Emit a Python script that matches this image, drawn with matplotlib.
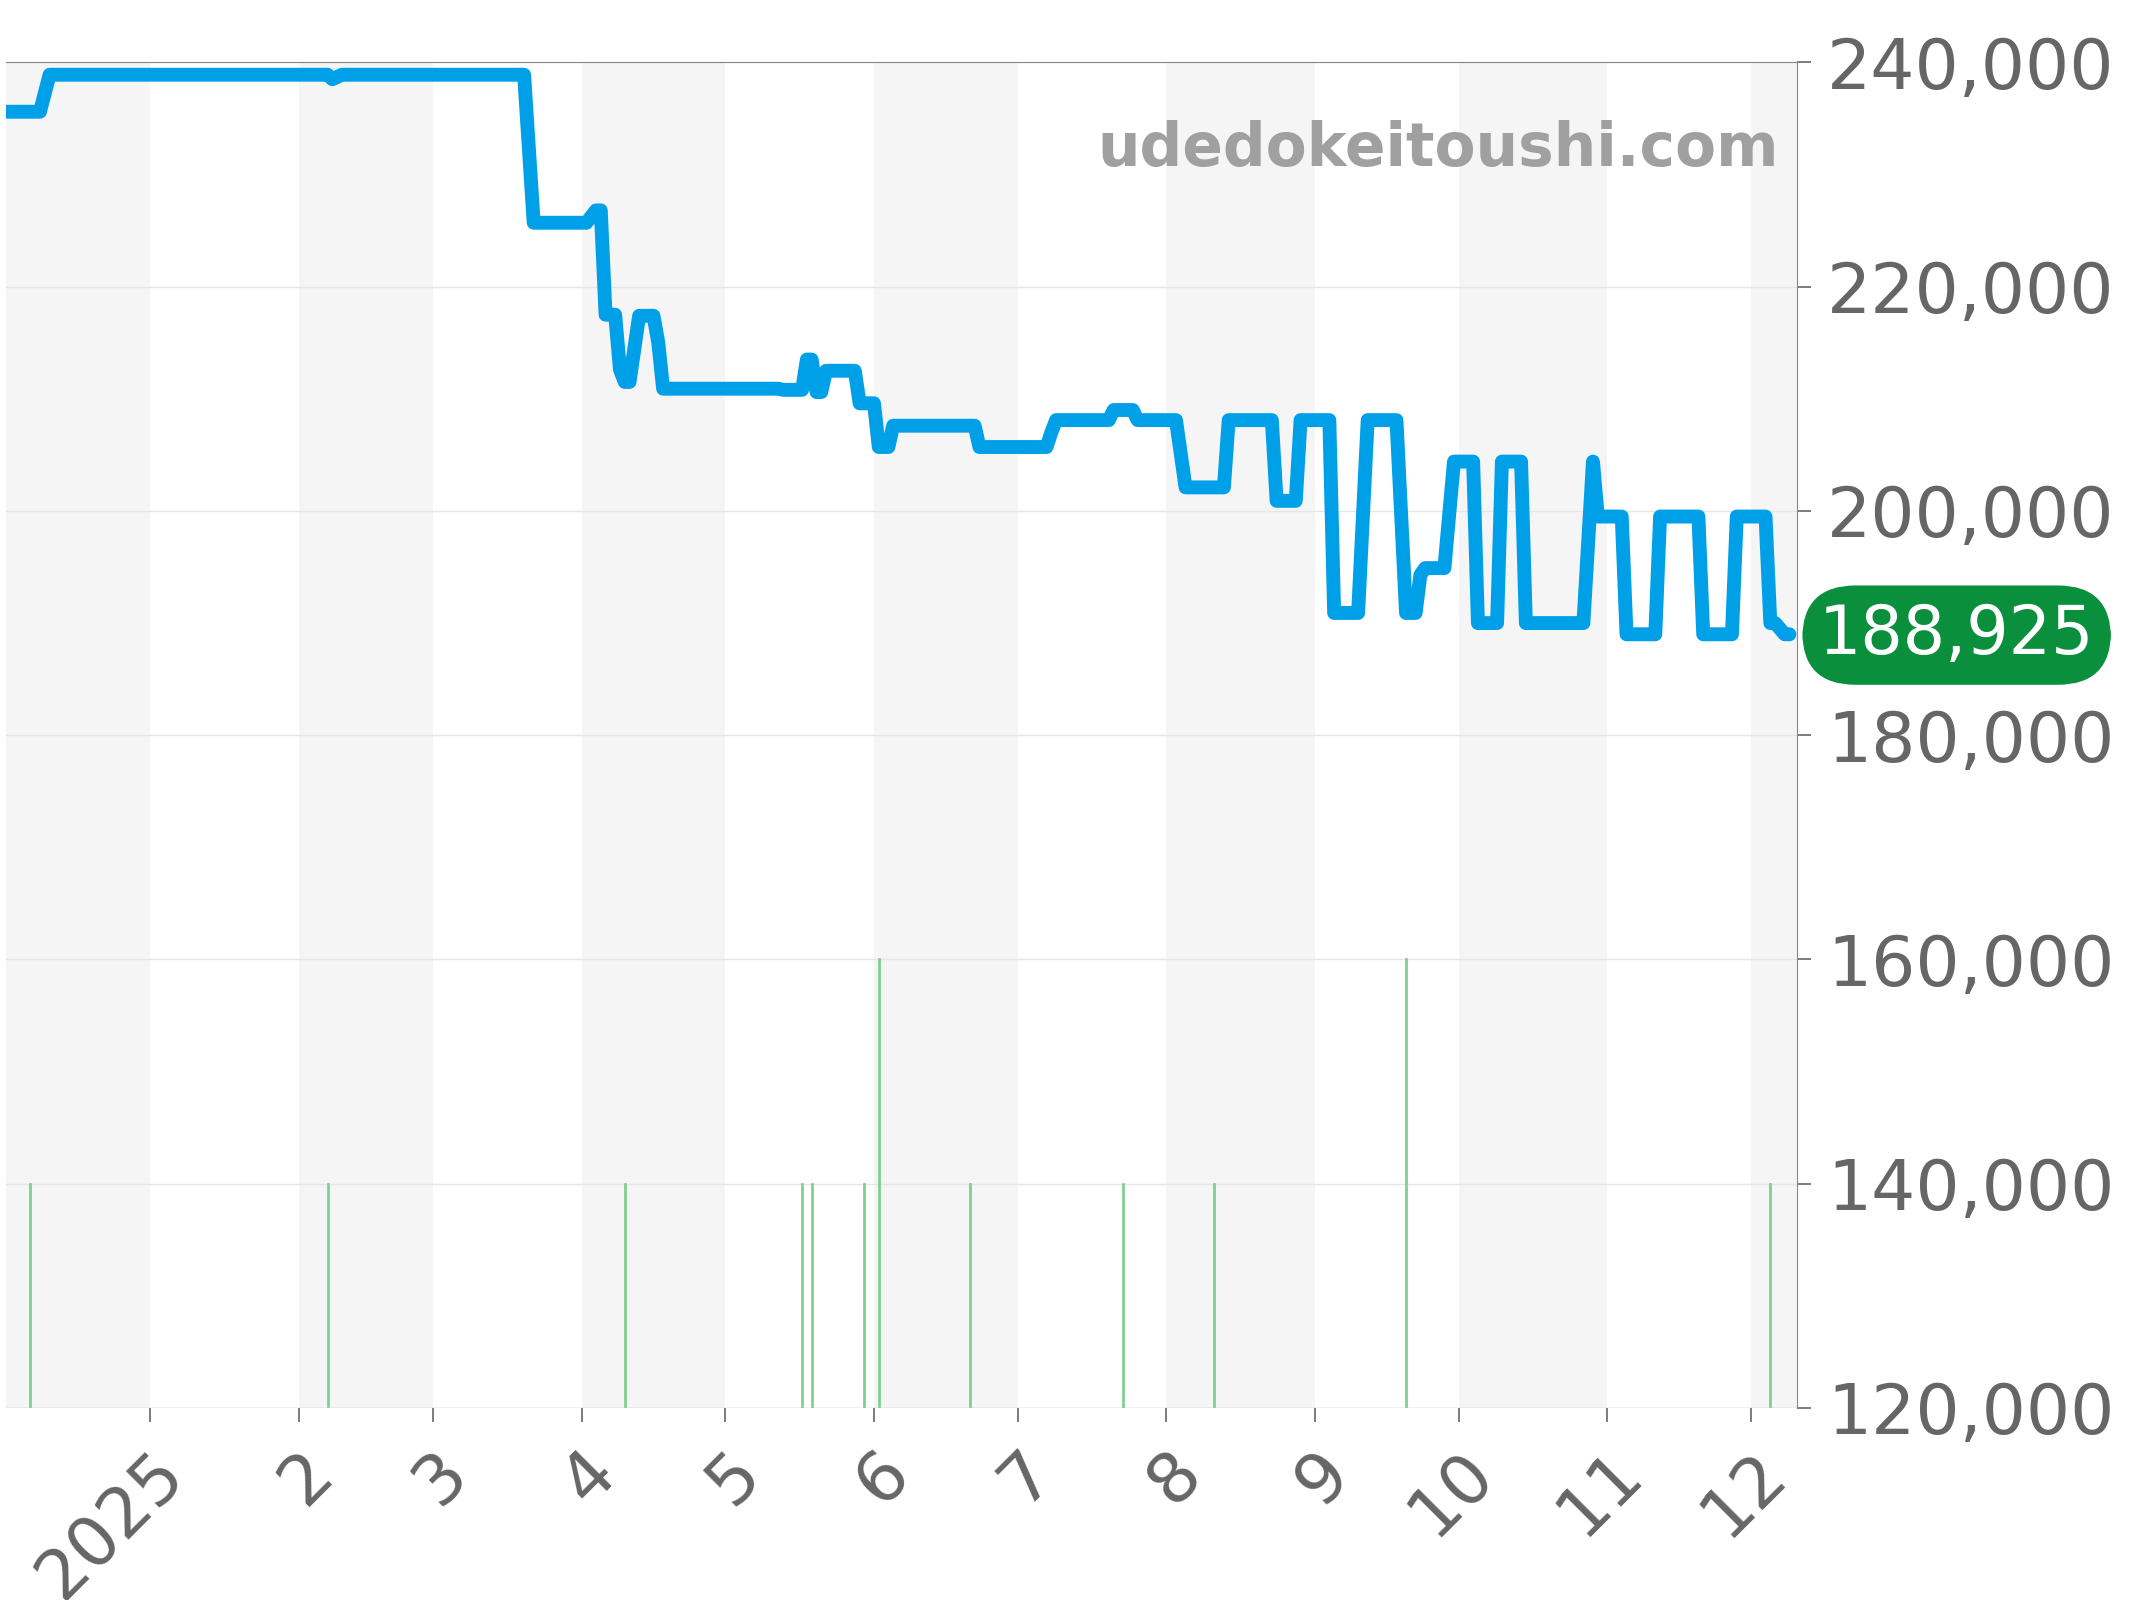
import numpy as np
import matplotlib.pyplot as plt
from matplotlib.ticker import FuncFormatter

# days from 2025-01-01
days = [-30, -23, -21, 37, 38, 40, 78, 80, 91, 93, 94, 95, 97, 98, 99, 100, 102, 105, 106, 107,
        131, 132, 136, 137, 138, 139, 140, 141, 147, 148, 151, 152, 154, 155, 172, 173, 187, 188, 189,
        200, 201, 205, 206, 214, 216, 224, 225, 234, 235, 239, 240, 246, 247, 252, 254, 260, 262,
        264, 265, 266, 270, 272, 276, 277, 281, 282, 286, 287, 299, 301, 302, 307, 308, 314, 315,
        323, 324, 330, 331, 337, 338, 339, 341, 342]
prices = [235600, 235600, 238900, 238900, 238500, 238900, 238900, 225700, 225700, 226800, 226800,
          217500, 217500, 212600, 211500, 211500, 217400, 217400, 215000, 210900,
          210900, 210800, 210800, 213500, 213500, 210600, 210600, 212500, 212500, 209600, 209600,
          205700, 205700, 207600, 207600, 205700, 205700, 207000, 208100,
          208100, 209000, 209000, 208100, 208100, 202100, 202100, 208100, 208100, 200900, 200900,
          208100, 208100, 190900, 190900, 208100, 208100, 190900, 190900, 194300, 194900, 194900,
          204400, 204400, 190000, 190000, 204400, 204400, 190000, 190000, 204400, 199500, 199500,
          189000, 189000, 199500, 199500, 189000, 189000, 199500, 199500, 190000, 190000, 189000, 189000]
vol_days = [-25, 37, 99, 136, 138, 149, 152, 171, 203, 222, 262, 338]
vol_tops = [140000, 140000, 140000, 140000, 140000, 140000, 160000, 140000, 140000, 140000, 160000, 140000]
month_days = [0, 31, 59, 90, 120, 151, 181, 212, 243, 273, 304, 334]
month_labels = ['2025', '2', '3', '4', '5', '6', '7', '8', '9', '10', '11', '12']
last_price = 188925

fig = plt.figure(figsize=(21.44, 16), dpi=100)
ax = fig.add_axes([0.003, 0.12, 0.835, 0.841])
xmin, xmax = -30, 343.5
ymin, ymax = 120000, 240000

# alternating month bands
edges = [xmin] + month_days + [xmax]
for i in range(len(edges) - 1):
    if i % 2 == 0:
        ax.axvspan(edges[i], edges[i + 1], color='#f5f5f5', zorder=0, lw=0)

ax.grid(axis='y', color='#e6e6e6', lw=1)
ax.set_axisbelow(True)

for d, t in zip(vol_days, vol_tops):
    ax.plot([d, d], [ymin, t], color='#7fd18f', lw=2, zorder=2)

ax.plot(days, prices, color='#00a0e9', lw=10, solid_joinstyle='round', solid_capstyle='round', zorder=3)

ax.set_xlim(xmin, xmax)
ax.set_ylim(ymin, ymax)
ax.yaxis.tick_right()
ax.set_yticks(np.arange(120000, 240001, 20000))
ax.yaxis.set_major_formatter(FuncFormatter(lambda v, p: f'{int(v):,}'))
ax.set_xticks(month_days)
ax.set_xticklabels(month_labels, rotation=45, ha='right', rotation_mode='anchor')
ax.tick_params(axis='both', labelsize=50, colors='#666666', length=10, width=1.2, pad=12)
for s in ['left', 'bottom']:
    ax.spines[s].set_visible(False)
for s in ['top', 'right']:
    ax.spines[s].set_color('#888888')
ax.axhline(ymin, color='#cccccc', lw=1)

ax.text(0.99, 0.935, 'udedokeitoushi.com', transform=ax.transAxes, ha='right', va='center',
        fontsize=43, fontweight='bold', color='#a0a0a0')

ax.annotate(f'{last_price:,}', xy=(1.0, last_price), xycoords=('axes fraction', 'data'),
            xytext=(16, 0), textcoords='offset points', ha='left', va='center',
            fontsize=48, color='white', annotation_clip=False,
            bbox=dict(boxstyle='round,pad=0.25,rounding_size=0.8', fc='#0a8f3c', ec='none'))

fig.savefig('out.png', dpi=100)
